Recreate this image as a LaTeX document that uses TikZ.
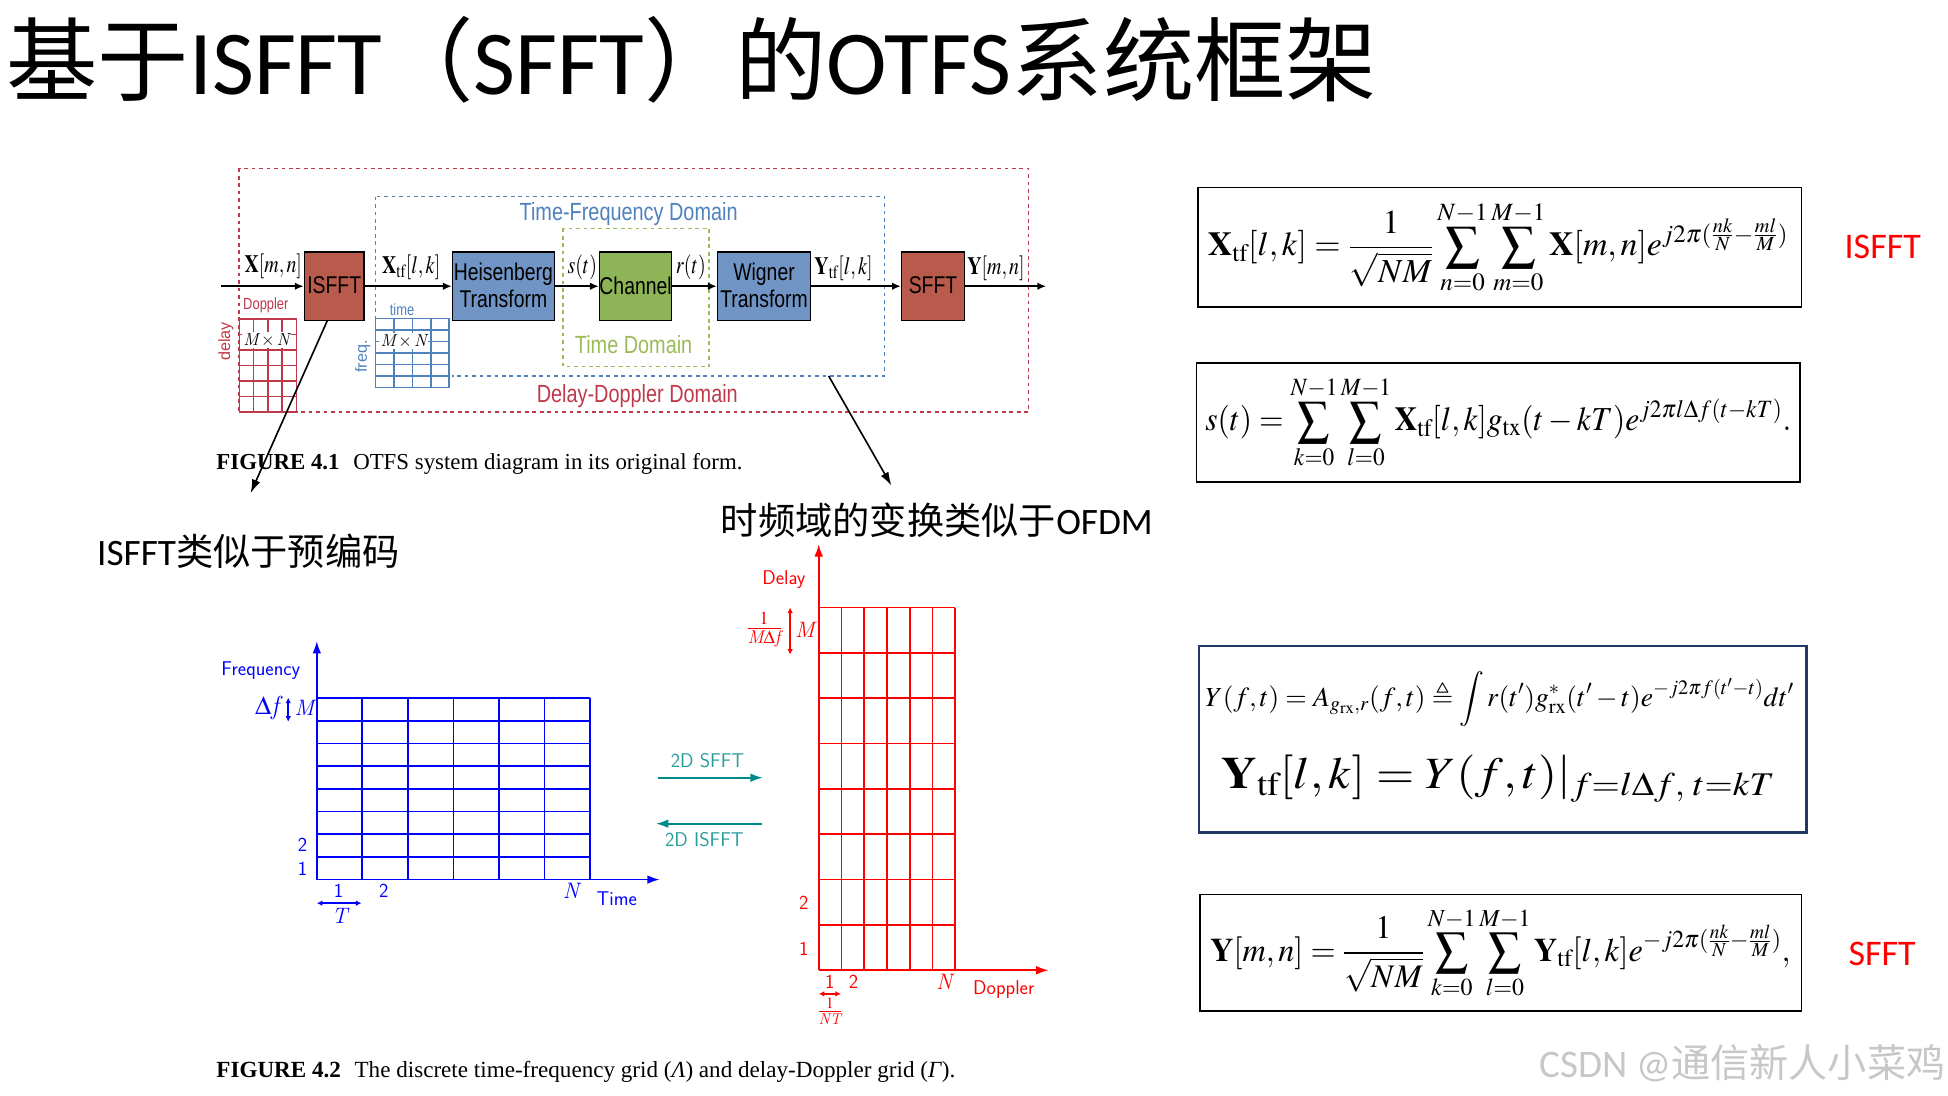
\documentclass[tikz,border=0pt]{standalone}
\usepackage{amsmath,amssymb}
\usepackage{mathptmx}
\usepackage[no-math]{fontspec}
\usepackage{graphicx}
\usepackage{xcolor}
\usetikzlibrary{arrows.meta,calc}
\setmainfont{Liberation Serif}
\newfontfamily\cjk{Noto Sans CJK SC}
\newfontfamily\carl{Carlito}
\newfontfamily\arialf{Liberation Sans}
\definecolor{ddred}{RGB}{192,57,75}
\definecolor{tfblue}{RGB}{79,129,189}
\definecolor{tdgreen}{RGB}{155,187,89}
\definecolor{boxred}{RGB}{184,91,76}
\definecolor{boxblue}{RGB}{112,148,196}
\definecolor{boxgreen}{RGB}{141,180,86}
\definecolor{teal}{RGB}{0,139,139}
\definecolor{navy}{RGB}{31,56,100}
\newcommand{\narrow}[1]{\scalebox{0.8}[1]{#1}}
\newcommand{\blocklab}[1]{\raisebox{1.5pt}{\scalebox{0.8}[1]{#1}}}
\newcommand{\cmit}[1]{\text{\fontfamily{lmr}\selectfont\itshape #1}}
\newcommand{\bX}{\mathbf{X}}
\newcommand{\bY}{\mathbf{Y}}
\newcommand{\tf}{\mathrm{tf}}
\tikzset{
  blockbox/.style={draw=black,line width=1.3pt,minimum height=55pt,inner sep=0pt,align=center,font=\arialf\fontsize{19.5}{22}\selectfont},
  flow/.style={-{Latex[length=7pt,width=6pt]},line width=1.2pt},
  pointer/.style={-{Latex[length=11pt,width=7pt]},line width=1.3pt},
  siglab/.style={inner sep=0pt,font=\fontsize{20}{22}\selectfont},
  eqnbox/.style={draw=black,line width=1.4pt},
  eqn/.style={inner sep=0pt,anchor=west},
  gridline/.style={line width=1.4pt},
  axisarrow/.style={-{Latex[length=10pt,width=7pt]},line width=1.4pt},
  spanarrow/.style={{Latex[length=4.5pt,width=4.5pt]}-{Latex[length=4.5pt,width=4.5pt]},line width=1.3pt},
  gridlab/.style={inner sep=0pt,font=\sffamily\fontsize{16}{18}\selectfont},
  domainlab/.style={inner sep=0pt,font=\arialf\fontsize{20}{24}\selectfont},
}
\begin{document}
\begin{tikzpicture}[x=1pt,y=-1pt]
\useasboundingbox (0,0) rectangle (1568,882);
\node[inner sep=0pt,anchor=west,font=\fontsize{73.5}{84}\selectfont] (title) at (5,48) {\cjk 基于\carl ISFFT\cjk （\carl SFFT\cjk ）的\carl OTFS\cjk 系统框架};
% system diagram
\draw[ddred,dashed,line width=1.3pt] (192.6,135.5) rectangle (828,331.6);
\draw[tfblue,dashed,line width=1.3pt] (302.4,158.3) rectangle (712,302.6);
\draw[tdgreen,dashed,line width=1.3pt] (453.3,183.8) rectangle (570.8,295);
\fill[white] (300,256) rectangle (364,304);
\foreach \k in {0,...,4}{
  \draw[ddred,line width=1.2pt] (192.6+\k*11.52,256.7) -- (192.6+\k*11.52,331.6);
  \draw[tfblue,line width=1.2pt] (302.4+\k*14.8,256.2) -- (302.4+\k*14.8,312);
}
\foreach \k in {0,...,6}{
  \draw[ddred,line width=1.2pt] (192.6,256.7+\k*12.48) -- (238.7,256.7+\k*12.48);
  \draw[tfblue,line width=1.2pt] (302.4,256.2+\k*9.3) -- (361.6,256.2+\k*9.3);
}
\node[fill=white,inner sep=1pt,font=\fontsize{14}{15}\selectfont] (ddsize) at (214.5,274) {$\cmit{M}\times\cmit{N}$};
\node[fill=white,inner sep=1pt,font=\fontsize{14}{15}\selectfont] (tfsize) at (325,274.4) {$\cmit{M}\times\cmit{N}$};
\node[ddred,inner sep=0pt,font=\arialf\fontsize{13}{15}\selectfont] (dopp) at (214,245.5) {\narrow{Doppler}};
\node[ddred,inner sep=0pt,rotate=90,font=\arialf\fontsize{13}{15}\selectfont] (dly) at (181.8,275) {delay};
\node[tfblue,inner sep=0pt,font=\arialf\fontsize{13}{15}\selectfont] (tm) at (323.6,249.5) {\narrow{time}};
\node[tfblue,inner sep=0pt,rotate=90,font=\arialf\fontsize{13}{15}\selectfont] (frq) at (292,287) {freq.};
\node[tfblue,domainlab] (tfdom) at (506,172.5) {\narrow{Time-Frequency Domain}};
\node[tdgreen,domainlab] (tdom) at (510,277) {\narrow{Time Domain}};
\node[ddred,domainlab] (dddom) at (513,318.5) {\narrow{Delay-Doppler Domain}};
\node[blockbox,fill=boxred,minimum width=48pt] (isfft) at (269,230.4) {\blocklab{ISFFT}};
\node[blockbox,fill=boxblue,minimum width=82pt] (heis) at (405.2,230.4) {\blocklab{Heisenberg}\\\blocklab{Transform}};
\node[blockbox,fill=boxgreen,minimum width=58pt] (chan) at (511.6,230.4) {\blocklab{Channel}};
\node[blockbox,fill=boxblue,minimum width=75pt] (wign) at (615,230.4) {\blocklab{Wigner}\\\blocklab{Transform}};
\node[blockbox,fill=boxred,minimum width=50.6pt] (sfft) at (751,230.4) {\blocklab{SFFT}};
\coordinate (inflow) at (177.7,230.4);
\coordinate (outflow) at (842,230.4);
\draw[flow] (inflow) -- (isfft);
\draw[flow] (isfft) -- (heis);
\draw[flow] (heis) -- (chan);
\draw[flow] (chan) -- (wign);
\draw[flow] (wign) -- (sfft);
\draw[flow] (sfft) -- (outflow);
\node[siglab] (xmn) at (220,214.6) {\narrow{$\bX[m,n]$}};
\node[siglab] (xtf) at (331,215) {\narrow{$\bX_{\tf}[l,k]$}};
\node[siglab] (st) at (468.7,215) {\narrow{$s(t)$}};
\node[siglab] (rt) at (556,215) {\narrow{$r(t)$}};
\node[siglab] (ytf) at (679,216) {\narrow{$\bY_{\tf}[l,k]$}};
\node[siglab] (ymn) at (801.7,216) {\narrow{$\bY[m,n]$}};
\coordinate (isfftfoot) at (263.5,258);
\coordinate (isfftnote) at (201.7,397);
\coordinate (tffoot) at (667,302.6);
\coordinate (tfnote) at (717.6,391);
\draw[pointer] (isfftfoot) -- (isfftnote);
\draw[pointer] (tffoot) -- (tfnote);
\node[inner sep=0pt,anchor=west,font=\fontsize{18.4}{20}\selectfont] (cap1) at (174,373.5) {\textbf{FIGURE 4.1}\hspace{11pt}OTFS system diagram in its original form.};
\node[inner sep=0pt,anchor=west,font=\fontsize{30}{34}\selectfont] (note1) at (78,444) {\carl ISFFT\cjk 类似于预编码};
\node[inner sep=0pt,anchor=west,font=\fontsize{30}{34}\selectfont] (note2) at (580,419) {\cjk 时频域的变换类似于\carl OFDM};
% time-frequency grid
\foreach \k in {0,...,6}
  \draw[blue,gridline] (255+\k*36.67,562) -- (255+\k*36.67,708);
\foreach \k in {0,...,8}
  \draw[blue,gridline] (255,562+\k*18.25) -- (475,562+\k*18.25);
\coordinate (tforg) at (255,708);
\coordinate (tftop) at (255,516);
\coordinate (tfright) at (531,708);
\draw[blue,axisarrow] (tforg) -- (tftop);
\draw[blue,axisarrow] (tforg) -- (tfright);
\begin{scope}[blue]
\node[gridlab] (freqlab) at (210,540) {Frequency};
\node[gridlab,font=\fontsize{21}{22}\selectfont] (dflab) at (215,570) {$\Delta\cmit{f}$};
\node[gridlab,font=\fontsize{18}{20}\selectfont] (tfm) at (245,570) {\cmit{M}};
\node[gridlab] (tfr2) at (243.6,680) {2};
\node[gridlab] (tfr1) at (243.6,699) {1};
\node[gridlab] (tfc1) at (272.5,717) {1};
\node[gridlab] (tfc2) at (309,717) {2};
\node[gridlab,font=\fontsize{18}{20}\selectfont] (tfn) at (459.6,717) {\cmit{N}};
\node[gridlab] (timelab) at (496.5,723) {Time};
\node[gridlab,font=\fontsize{18}{20}\selectfont] (tfT) at (273.5,737) {\cmit{T}};
\coordinate (dfa) at (232,561.5);
\coordinate (dfb) at (232,581);
\coordinate (ta) at (255,727);
\coordinate (tb) at (291,727);
\draw[spanarrow] (dfa) -- (dfb);
\draw[spanarrow] (ta) -- (tb);
\end{scope}
% transform arrows
\coordinate (sffta) at (530,626);
\coordinate (sfftb) at (614,626);
\coordinate (isffta) at (613,663);
\coordinate (isfftb) at (528,663);
\draw[teal,axisarrow] (sffta) -- (sfftb);
\draw[teal,axisarrow] (isffta) -- (isfftb);
\node[gridlab,teal!85] (sfftlab) at (569.5,612) {2D SFFT};
\node[gridlab,teal!85] (isfftlab) at (567,675.7) {2D ISFFT};
% delay-Doppler grid
\foreach \k in {0,...,6}
  \draw[red,gridline] (659+\k*18.33,489) -- (659+\k*18.33,781);
\foreach \k in {0,...,8}
  \draw[red,gridline] (659,489+\k*36.5) -- (769,489+\k*36.5);
\coordinate (ddorg) at (659,781);
\coordinate (ddtop) at (659,438);
\coordinate (ddright) at (844,781);
\draw[red,axisarrow] (ddorg) -- (ddtop);
\draw[red,axisarrow] (ddorg) -- (ddright);
\begin{scope}[red]
\node[gridlab] (delaylab) at (631,466.5) {Delay};
\node[gridlab] (dopplab) at (808,796.5) {Doppler};
\node[gridlab,font=\fontsize{18}{20}\selectfont] (ddm) at (648,507) {\cmit{M}};
\node[gridlab,font=\fontsize{20}{22}\selectfont] (dfrac) at (615,507) {$\frac{1}{\cmit{M}\Delta\cmit{f}}$};
\node[gridlab] (ddr2) at (647,727) {2};
\node[gridlab] (ddr1) at (647,764) {1};
\node[gridlab] (ddc1) at (668,790) {1};
\node[gridlab] (ddc2) at (687,790) {2};
\node[gridlab,font=\fontsize{18}{20}\selectfont] (ddn) at (760,790) {\cmit{N}};
\node[gridlab,font=\fontsize{17}{20}\selectfont] (ntfrac) at (668,814) {$\frac{1}{\cmit{NT}}$};
\coordinate (dda) at (636,489);
\coordinate (ddb) at (636,527);
\coordinate (nta) at (659,800);
\coordinate (ntb) at (677,800);
\draw[spanarrow] (dda) -- (ddb);
\draw[spanarrow] (nta) -- (ntb);
\end{scope}
\node[inner sep=0pt,anchor=west,font=\fontsize{18.6}{20}\selectfont] (cap2) at (174,862.5) {\textbf{FIGURE 4.2}\hspace{11pt}The discrete time-frequency grid (\textit{Λ}) and delay-Doppler grid (\textit{Γ}).};
% formulas
\draw[eqnbox] (964,151) rectangle (1450,247);
\draw[eqnbox] (963,292) rectangle (1449,388);
\draw[navy,line width=2.2pt] (965,520) rectangle (1454,670);
\draw[eqnbox] (966,720) rectangle (1450,814);
\node[eqn,font=\fontsize{27}{31}\selectfont] (eqa) at (972,199) {\scalebox{1.01}[1]{$\displaystyle \bX_{\tf}[l,k]=\frac{1}{\sqrt{NM}}\sum_{n=0}^{N-1}\sum_{m=0}^{M-1}\bX[m,n]e^{j2\pi(\frac{nk}{N}-\frac{ml}{M})}$}};
\node[eqn,font=\fontsize{27}{31}\selectfont] (eqb) at (970,340) {\scalebox{0.94}[1]{$\displaystyle s(t)=\sum_{k=0}^{N-1}\sum_{l=0}^{M-1}\bX_{\tf}[l,k]g_{\mathrm{tx}}(t-kT)e^{j2\pi l\Delta f(t-kT)}.$}};
\node[eqn,font=\fontsize{22.2}{26}\selectfont] (eqc) at (970,563) {$\displaystyle Y(f,t)=A_{g_{\mathrm{rx}},r}(f,t)\triangleq\int r(t')g^{*}_{\mathrm{rx}}(t'-t)e^{-j2\pi f(t'-t)}dt'$};
\node[eqn,font=\fontsize{36}{40}\selectfont] (eqd) at (983,627) {\scalebox{1.1}[1]{$\bY_{\tf}[l,k]=Y(f,t)|_{f=l\Delta f,\;t=kT}$}};
\node[eqn,font=\fontsize{26.5}{31}\selectfont] (eqe) at (974,767) {\scalebox{0.98}[1]{$\displaystyle \bY[m,n]=\frac{1}{\sqrt{NM}}\sum_{k=0}^{N-1}\sum_{l=0}^{M-1}\bY_{\tf}[l,k]e^{-j2\pi(\frac{nk}{N}-\frac{ml}{M})},$}};
\node[red,inner sep=0pt,font=\carl\fontsize{29}{32}\selectfont] (isfftname) at (1515.5,199) {ISFFT};
\node[red,inner sep=0pt,font=\carl\fontsize{29}{32}\selectfont] (sfftname) at (1515,768) {SFFT};
\node[black!22,inner sep=0pt,anchor=east,font=\fontsize{31.5}{34}\selectfont] (mark) at (1566,856) {\carl CSDN @\cjk 通信新人小菜鸡};
\end{tikzpicture}
\end{document}
